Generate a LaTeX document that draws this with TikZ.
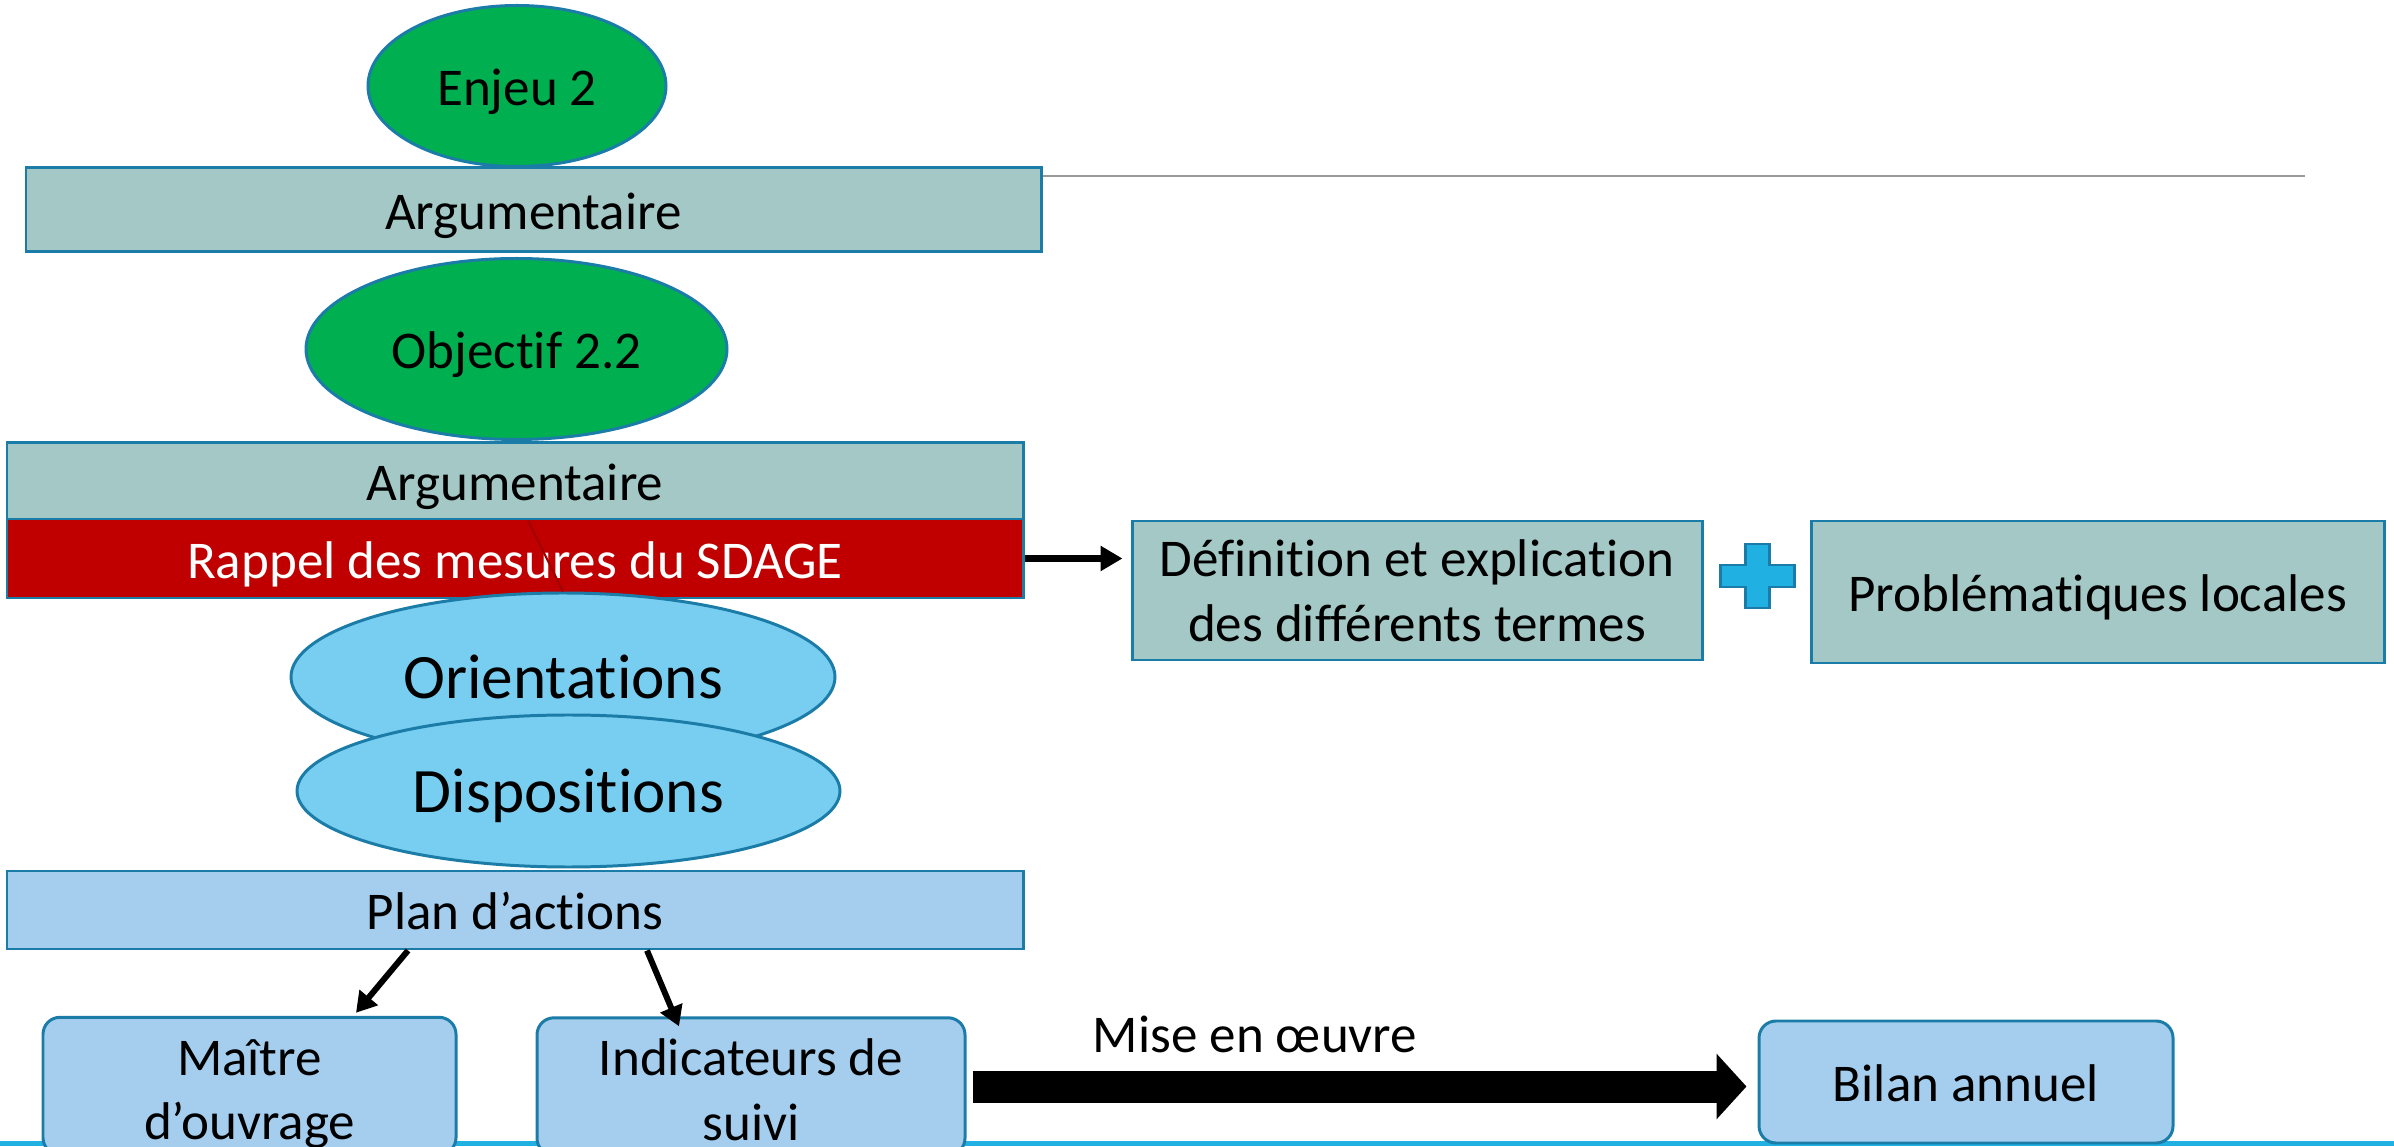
\documentclass[tikz,border=0pt]{standalone}
\usepackage{fontspec}
\setmainfont{Carlito}[Ligatures=NoCommon]
\usetikzlibrary{shapes.geometric,arrows.meta}

\definecolor{bord}{RGB}{28,124,168}
\definecolor{vert}{RGB}{0,176,80}
\definecolor{gris}{RGB}{163,200,197}
\definecolor{rouge}{RGB}{192,0,0}
\definecolor{ciel}{RGB}{120,206,240}
\definecolor{pale}{RGB}{165,206,238}
\definecolor{cyan2}{RGB}{32,176,226}

\tikzset{
  txt/.style={font=\fontsize{15.1}{18.3}\selectfont,align=center,inner sep=0pt},
  ligne/.style={text height=15pt,text depth=3.9pt},
  deux/.style={text height=#1,text depth=4.3pt},
  big/.style={font=\fontsize{18}{21}\selectfont,inner sep=0pt,text height=16.6pt,text depth=4.4pt},
  bulle/.style={ellipse,draw=bord,line width=0.85pt,inner sep=0pt},
  barre/.style={txt,ligne,rectangle,draw=bord,line width=0.85pt,minimum width=10.16cm},
  boite/.style={txt,rectangle,draw=bord,line width=0.85pt,fill=gris},
  ronde/.style={txt,rectangle,rounded corners=0.17cm,draw=bord,line width=0.85pt,fill=pale},
  fleche/.style={line width=1.7pt,-{Triangle[length=0.2cm,width=0.23cm]}},
}

\begin{document}
\begin{tikzpicture}
      \useasboundingbox(0,0)rectangle(23.94,11.46);

      % ligne du bas
      \coordinate(bg)at(0,0.025);
      \coordinate(bd)at(23.94,0.025);
      \draw[cyan2,line width=0.05cm](bg)--(bd);

      % enjeu et objectif
      \node[bulle,txt,ligne,fill=vert,minimum width=2.98cm,minimum height=1.61cm](enjeu)at(5.17,10.60){Enjeu 2};
      \node[barre,fill=gris,minimum width=10.15cm,minimum height=0.84cm](arg1)at(5.335,9.36){Argumentaire};
      \coordinate(trait)at(23.05,9.70);
      \draw[gray!80,line width=0.6pt]([yshift=0.34cm]arg1.east)--(trait);

      \node[bulle,txt,ligne,fill=vert,minimum width=4.21cm,minimum height=1.81cm](obj)at(5.165,7.97){Objectif 2.2};
      \node[barre,fill=gris,minimum height=0.76cm](arg2)at(5.15,6.65){Argumentaire};
      \node[barre,fill=rouge,text=white,minimum height=0.79cm](rappel)at(5.15,5.875){Rappel des mesures du SDAGE};

      \node[bulle,big,fill=ciel,minimum width=5.44cm,minimum height=1.68cm](ori)at(5.63,4.69){Orientations};
      \node[bulle,big,fill=ciel,minimum width=5.43cm,minimum height=1.52cm](disp)at(5.685,3.55){Dispositions};
      \draw[rouge!85!black,line width=0.6pt]([xshift=0.13cm]arg2.south)--(ori.north);

      % termes
      \node[boite,deux=33.1pt,minimum width=5.70cm,minimum height=1.39cm](def)at(14.17,5.555){D\'efinition et explication\\des diff\'erents termes};
      \node[boite,ligne,minimum width=5.73cm,minimum height=1.42cm](prob)at(20.975,5.54){Probl\'ematiques locales};
      \draw[line width=2pt,-{Triangle[length=0.22cm,width=0.24cm]},shorten >=0.08cm](rappel.east)--(rappel.east-|def.west);
      \filldraw[fill=cyan2,draw=bord,line width=0.85pt,shift={(17.57,5.70)}]
        (-0.12,0.32)--(0.12,0.32)--(0.12,0.11)--(0.37,0.11)--(0.37,-0.11)--(0.12,-0.11)
        --(0.12,-0.32)--(-0.12,-0.32)--(-0.12,-0.11)--(-0.37,-0.11)--(-0.37,0.11)--(-0.12,0.11)--cycle;

      % plan d'actions
      \node[barre,fill=pale,minimum height=0.78cm](plan)at(5.15,2.36){Plan d'actions};
      \node[ronde,deux=34.8pt,minimum width=4.13cm,minimum height=1.20cm](maitre)at(2.495,0.60){Ma\^itre\\d'ouvrage};
      \node[ronde,deux=34.8pt,minimum width=4.28cm,minimum height=1.19cm](indic)at(7.51,0.595){Indicateurs de\\suivi};
      \node[ronde,ligne,minimum width=4.14cm,minimum height=1.22cm](bilan)at(19.66,0.64){Bilan annuel};
      \draw[fleche]([xshift=-1.07cm]plan.south)--([xshift=1.065cm,yshift=0.03cm]maitre.north);
      \draw[fleche]([xshift=1.32cm]plan.south)--([xshift=-0.72cm,yshift=-0.10cm]indic.north);

      \node[txt,anchor=base](mise)at(12.55,0.94){Mise en \oe uvre};
      \draw[line width=0.32cm,-{Triangle[length=0.3cm,width=0.64cm]}]([xshift=0.06cm]indic.east)--([xshift=-0.11cm]indic.east-|bilan.west);
    \end{tikzpicture}
\end{document}
